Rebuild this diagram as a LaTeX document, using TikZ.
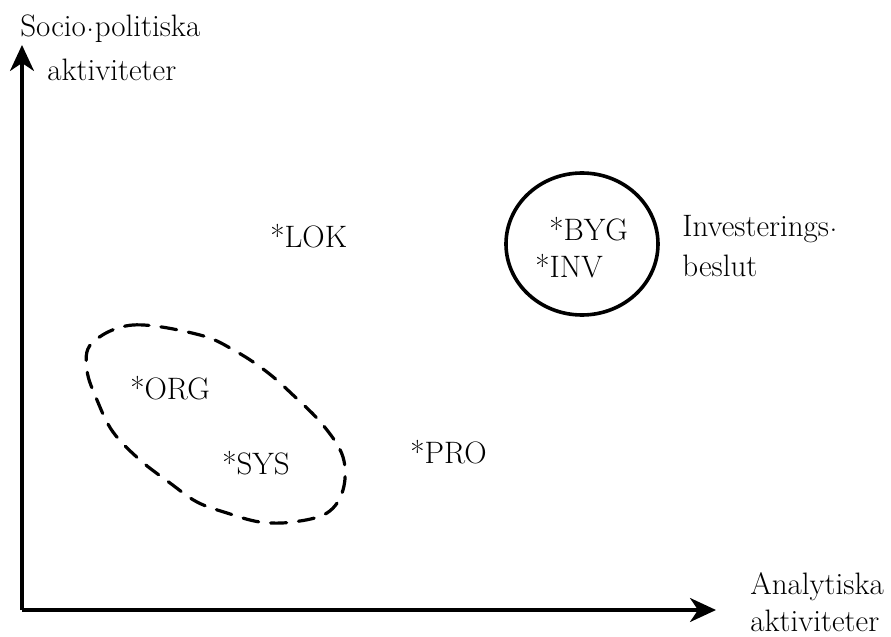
\documentclass[tikz,border=0pt]{standalone}
\usepackage{fontspec}
\usetikzlibrary{arrows.meta,positioning}
\tikzset{
  >={Stealth[length=13pt,width=12pt,inset=4pt]},
}
\newcommand{\hdot}{\kern0.3pt\raisebox{0.4ex}{.}\kern0.3pt}

\begin{document}
\begin{tikzpicture}[x=0.5pt,y=-0.5pt,
    every node/.style={font=\fontsize{15.5}{18}\selectfont,inner sep=0pt},
    axis/.style={line width=1.6pt,->},
    code/.style={anchor=west},
    blob/.style={line width=1.6pt,dash pattern=on 8pt off 6pt,line cap=round},
    ring/.style={line width=1.8pt}]

        \useasboundingbox (0,0) rectangle (891,637);

        % axes
        \coordinate (o) at (22,610);
        \coordinate (ytop) at (22,45);
        \coordinate (xend) at (716,610);
        \draw[axis] (o) -- (ytop);
        \draw[axis] (o) -- (xend);

        \node[anchor=west] (ylab1) at (20,29)  {Socio\hdot politiska};
        \node[anchor=west] (ylab2) at (47,70)  {aktiviteter};
        \node[anchor=west] (xlab1) at (750,587) {Analytiska};
        \node[anchor=west] (xlab2) at (750,621) {aktiviteter};

        % activities
        \node[code] (lok) at (270,236) {*LOK};
        \node[code] (byg) at (549,229) {*BYG};
        \node[code] (inv) at (535,266) {*INV};
        \node[code] (org) at (130,388) {*ORG};
        \node[code] (sys) at (222,463) {*SYS};
        \node[code] (pro) at (410,452) {*PRO};

        \node[anchor=west] (inv1) at (682,229) {Investerings\hdot};
        \node[anchor=west] (inv2) at (682,266) {beslut};

        % groups
        \draw[ring] (582,244) ellipse [x radius=76,y radius=71];
        \draw[blob] plot[smooth cycle,tension=0.6] coordinates {
            (92,343) (133,325) (200,335) (237,352) (267,372) (293,395)
            (323,425) (343,457) (343,490) (327,513) (293,522) (260,522)
            (227,513) (197,502) (170,483) (140,460) (113,432) (97,400)
            (87,370)};

    \end{tikzpicture}
\end{document}
